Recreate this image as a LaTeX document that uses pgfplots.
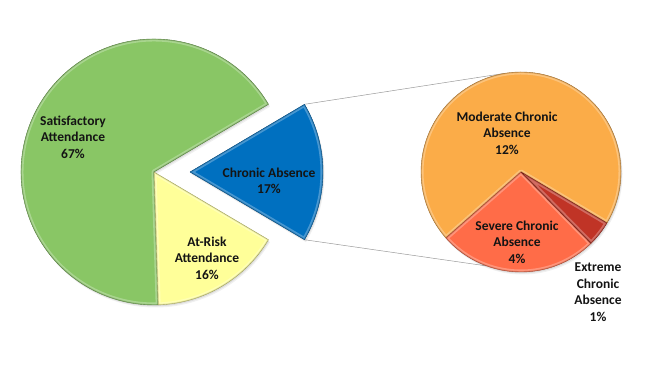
\documentclass[border=0pt]{standalone}
\usepackage{pgfplots}
\pgfplotsset{compat=1.18}
\usepackage{pgfplotstable}
\usepackage{fontspec}
\setmainfont{Carlito}

\definecolor{cGreen}{RGB}{137,198,101}
\definecolor{cYellow}{RGB}{255,255,153}
\definecolor{cBlue}{RGB}{0,112,192}
\definecolor{cOrange}{RGB}{251,172,72}
\definecolor{cSevere}{RGB}{255,108,72}
\definecolor{cExtreme}{RGB}{192,52,38}
\definecolor{cText}{RGB}{20,20,20}

% main pie (percent of all students)
\pgfplotstableread{
label value
Satisfactory 67
AtRisk 16
Chronic 17
}\maintable
% breakdown of chronic absence (percent of all students)
\pgfplotstableread{
label value
Moderate 11.9
Severe 4.4
Extreme 0.7
}\subtable

\pgfplotstablegetelem{0}{value}\of\maintable \let\vA\pgfplotsretval
\pgfplotstablegetelem{1}{value}\of\maintable \let\vB\pgfplotsretval
\pgfplotstablegetelem{2}{value}\of\maintable \let\vC\pgfplotsretval
\pgfplotstablegetelem{0}{value}\of\subtable \let\sA\pgfplotsretval
\pgfplotstablegetelem{1}{value}\of\subtable \let\sB\pgfplotsretval
\pgfplotstablegetelem{2}{value}\of\subtable \let\sC\pgfplotsretval

\pgfmathsetmacro{\mT}{\vA+\vB+\vC}
\pgfmathsetmacro{\aA}{\vC/\mT*180}
\pgfmathsetmacro{\aB}{\aA+\vA/\mT*360}
\pgfmathsetmacro{\aC}{\aB+\vB/\mT*360}
\pgfmathsetmacro{\aD}{\aC+\vC/\mT*360}

\pgfmathsetmacro{\sT}{\sA+\sB+\sC}
\pgfmathsetmacro{\bA}{-30.7}
\pgfmathsetmacro{\bB}{\bA+\sA/\sT*360}
\pgfmathsetmacro{\bC}{\bB+\sB/\sT*360}
\pgfmathsetmacro{\bD}{\bC+\sC/\sT*360}

\newcommand{\wpath}[5]{(axis cs:#1,#2) -- (axis cs:{#1+#3*cos(#4)},{#2+#3*sin(#4)})
    arc[start angle=#4, end angle=#5, radius=#3bp] -- cycle}
\newcommand{\wedgefill}[6]{%
  \fill[black, opacity=0.06, xshift=1.5bp, yshift=-2.5bp] \wpath{#1}{#2}{#3}{#4}{#5};
  \fill[black, opacity=0.08, xshift=0.8bp, yshift=-1.3bp] \wpath{#1}{#2}{#3}{#4}{#5};
  \fill[#6] \wpath{#1}{#2}{#3}{#4}{#5};
  \begin{scope}
    \clip \wpath{#1}{#2}{#3}{#4}{#5};
    \draw[white, opacity=0.28, line width=5bp, line join=round] \wpath{#1}{#2}{#3}{#4}{#5};
    \draw[#6!70!black, opacity=0.35, line width=1.8bp, line join=round] \wpath{#1}{#2}{#3}{#4}{#5};
  \end{scope}
  \draw[#6!62!black, line width=0.4bp, line join=round] \wpath{#1}{#2}{#3}{#4}{#5};}

\begin{document}
\begin{tikzpicture}
\begin{axis}[hide axis, scale only axis, width=652bp, height=386bp,
  xmin=0, xmax=652, ymin=0, ymax=386, clip=false]
\path (axis cs:0,0) rectangle (axis cs:652,386);
% connectors
\draw[gray!80, line width=0.5pt] (axis cs:{190+133*cos(\aD)},{214+133*sin(\aD)}) -- (axis cs:{521+100*cos(99)},{214+100*sin(99)});
\draw[gray!80, line width=0.5pt] (axis cs:{190+133*cos(\aC)},{214+133*sin(\aC)}) -- (axis cs:{521+100*cos(250)},{214+100*sin(250)});
% main pie
\wedgefill{154}{214}{133}{\aA}{\aB}{cGreen}
\wedgefill{154}{214}{133}{\aB}{\aC}{cYellow}
\wedgefill{190}{214}{133}{\aC}{\aD}{cBlue}
% secondary pie
\wedgefill{521}{214}{100}{\bA}{\bB}{cOrange}
\wedgefill{521}{214}{100}{\bB}{\bC}{cSevere}
\wedgefill{521}{214}{100}{\bC}{\bD}{cExtreme}
% labels
\tikzset{lbl/.style={align=center, text=cText, font=\bfseries\fontsize{13.5bp}{16.5bp}\selectfont}}
\node[lbl] at (axis cs:73,249) {Satisfactory\\Attendance\\67\%};
\node[lbl] at (axis cs:207,128) {At-Risk\\Attendance\\16\%};
\node[lbl] at (axis cs:269,205) {Chronic Absence\\17\%};
\node[lbl] at (axis cs:507,253) {Moderate Chronic\\Absence\\12\%};
\node[lbl] at (axis cs:517,144) {Severe Chronic\\Absence\\4\%};
\node[lbl] at (axis cs:598,94) {Extreme\\Chronic\\Absence\\1\%};
\end{axis}
\end{tikzpicture}
\end{document}
